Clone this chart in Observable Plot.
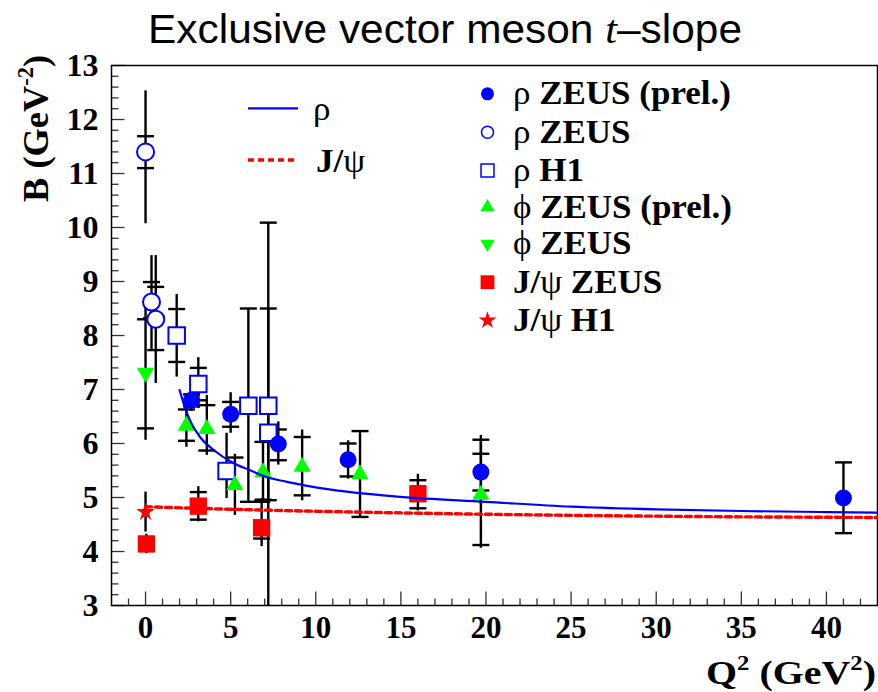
<!DOCTYPE html>
<html><head><meta charset="utf-8">
<script src="https://cdn.jsdelivr.net/npm/d3@7"></script>
<script src="https://cdn.jsdelivr.net/npm/@observablehq/plot@0.6"></script>
<style>body{margin:0;background:#fff;overflow:hidden}</style>
</head><body>
<div id="chart"></div>
<script>
// ---------------- data ----------------
// rho ZEUS (prel.)
const rhoZeusPrelQ2 = [2.7, 5.0, 7.8, 11.9, 19.7, 41.0];
const rhoZeusPrelB = [6.80, 6.54, 5.99, 5.70, 5.47, 4.99];
const rhoZeusPrelStat = [[0.11,0.11],[0.23,0.23],[0.30,0.27],[0.31,0.30],[0.34,0.34],[0.65,0.66]];
const rhoZeusPrelTot = [[0.20,0.20],[0.35,0.40],[0.39,0.41],[0.36,0.35],[0.60,0.60],[0.65,0.66]];
// rho ZEUS
const rhoZeusQ2 = [0.0, 0.35, 0.6];
const rhoZeusB = [11.40, 8.62, 8.30];
const rhoZeusStat = [[0.30,0.29],[0.30,0.37],[0.57,0.60]];
const rhoZeusTot = [[1.33,1.13],[0.89,0.86],[1.19,1.18]];
// rho H1
const rhoH1Q2 = [1.83, 3.1, 4.76, 6.04, 7.21, 7.21];
const rhoH1B = [8.00, 7.10, 5.49, 6.70, 6.70, 6.20];
const rhoH1Stat = [[0.49,0.49],[0.30,0.30],[0,0],[1.78,1.80],[1.75,1.80],[3.90,3.89]];
const rhoH1Tot = [[0.77,0.76],[0.45,0.49],[0.51,0.70],[1.78,1.80],[1.75,1.80],[3.90,3.89]];
// phi ZEUS (prel.)
const phiZeusPrelQ2 = [2.4, 3.6, 5.25, 6.9, 9.2, 12.6, 19.7];
const phiZeusPrelB = [6.33, 6.27, 5.23, 5.47, 5.57, 5.43, 5.05];
const phiZeusPrelStat = [[0.28,0.30],[0.40,0.44],[0.45,0.51],[0.51,0.56],[0.53,0.55],[0.79,0.80],[0.93,1.02]];
const phiZeusPrelTot = [[0.40,0.35],[0.49,0.62],[0.56,0.57],[0.55,0.62],[0.63,0.68],[0.79,0.80],[0.99,1.10]];
// phi ZEUS
const phiZeusQ2 = [0.0];
const phiZeusB = [7.31];
const phiZeusStat = [[1.03,0.99]];
const phiZeusTot = [[1.25,1.25]];
// J/psi ZEUS
const jpsiZeusQ2 = [0.05, 3.1, 6.82, 16.0];
const jpsiZeusB = [4.14, 4.84, 4.44, 5.07];
const jpsiZeusStat = [[0,0],[0.25,0.26],[0.20,0.48],[0.27,0.25]];
const jpsiZeusTot = [[0.18,0.18],[0.29,0.36],[0.35,0.54],[0.32,0.36]];
// J/psi H1
const jpsiH1Q2 = [0.0];
const jpsiH1B = [4.73];
const jpsiH1Stat = [[0,0]];
const jpsiH1Tot = [[0.37,0.37]];
// fit curves
const rhoFitQ2 = [2.0, 2.3, 2.7, 3.2, 4.0, 5.15, 6.1, 7.1, 8.3, 10.8, 15, 20, 25, 30, 35, 40, 43];
const rhoFitB  = [6.99, 6.68, 6.37, 6.12, 5.88, 5.64, 5.51, 5.38, 5.29, 5.15, 5.01, 4.92, 4.83, 4.78, 4.75, 4.73, 4.72];
const jpsiFitQ2 = [0, 3, 10.8, 20, 31.5, 43];
const jpsiFitB  = [4.83, 4.80, 4.74, 4.69, 4.65, 4.63];
// axes
const xTickValues = [0, 5, 10, 15, 20, 25, 30, 35, 40];
const xTickLabels = ["0","5","10","15","20","25","30","35","40"];
const yTickValues = [3,4,5,6,7,8,9,10,11,12,13];
const yTickLabels = ["3","4","5","6","7","8","9","10","11","12","13"];
const legendLabels = ["ρ ZEUS (prel.)","ρ ZEUS","ρ H1","ϕ ZEUS (prel.)","ϕ ZEUS","J/ψ ZEUS","J/ψ H1"];

// ---------------- build ----------------
function rowsOf(name, q2, b, stat, tot) {
  return q2.map((q, i) => ({series: name, q2: q, B: b[i], sLo: stat[i][0], sHi: stat[i][1], tLo: tot[i][0], tHi: tot[i][1]}));
}
const sRhoZP = rowsOf("rhoZP", rhoZeusPrelQ2, rhoZeusPrelB, rhoZeusPrelStat, rhoZeusPrelTot);
const sRhoZ  = rowsOf("rhoZ", rhoZeusQ2, rhoZeusB, rhoZeusStat, rhoZeusTot);
const sRhoH  = rowsOf("rhoH", rhoH1Q2, rhoH1B, rhoH1Stat, rhoH1Tot);
const sPhiZP = rowsOf("phiZP", phiZeusPrelQ2, phiZeusPrelB, phiZeusPrelStat, phiZeusPrelTot);
const sPhiZ  = rowsOf("phiZ", phiZeusQ2, phiZeusB, phiZeusStat, phiZeusTot);
const sJZ    = rowsOf("jZ", jpsiZeusQ2, jpsiZeusB, jpsiZeusStat, jpsiZeusTot);
const sJH    = rowsOf("jH", jpsiH1Q2, jpsiH1B, jpsiH1Stat, jpsiH1Tot);
const allRows = [...sRhoH, ...sRhoZ, ...sRhoZP, ...sPhiZ, ...sPhiZP, ...sJZ, ...sJH];
const caps = allRows.flatMap(d => {
  const out = [];
  if (d.sHi > 0) out.push({q2: d.q2, y: d.B + d.sHi});
  if (d.sLo > 0) out.push({q2: d.q2, y: d.B - d.sLo});
  return out;
});
const rhoFit = rhoFitQ2.map((q, i) => ({q2: q, B: rhoFitB[i]}));
const jpsiFit = jpsiFitQ2.map((q, i) => ({q2: q, B: jpsiFitB[i]}));

const yMinor = d3.range(30, 131, 2).map(v => v / 10).filter(v => Math.abs(v - Math.round(v)) > 1e-6);
const xMinor = d3.range(-1, 43).filter(v => v % 5 !== 0);

const capSym = {draw(ctx, size) {const w = Math.sqrt(size / Math.PI); ctx.moveTo(-w, 0); ctx.lineTo(w, 0);}};
const tickRight = {draw(ctx, size) {const l = Math.sqrt(size / Math.PI); ctx.moveTo(0, 0); ctx.lineTo(l, 0);}};
const tickUp = {draw(ctx, size) {const l = Math.sqrt(size / Math.PI); ctx.moveTo(0, 0); ctx.lineTo(0, -l);}};
const triDown = {draw(ctx, size) {const y = Math.sqrt(size / (3 * Math.sqrt(3))); ctx.moveTo(0, 2 * y); ctx.lineTo(-Math.sqrt(3) * y, -y); ctx.lineTo(Math.sqrt(3) * y, -y); ctx.closePath();}};

const BLUE = "#0000ff", GREEN = "#00ff00", RED = "#ff0000";
const SERIF = "Liberation Serif, Times New Roman, serif";
const TICKC = "#333";

const legRowY = [93.3, 131.7, 170, 206.7, 243.3, 281.7, 320];
const legX = 487;
const legMarkers = [
  {symbol: "circle", r: 6.5, fill: BLUE},
  {symbol: "circle", r: 6, fill: "white", stroke: BLUE, strokeWidth: 1.5},
  {symbol: "square", r: 7.3, fill: "white", stroke: BLUE, strokeWidth: 1.5},
  {symbol: "triangle", r: 5.3, fill: GREEN},
  {symbol: triDown, r: 5.3, fill: GREEN},
  {symbol: "square", r: 7.8, fill: RED},
  {symbol: "star", r: 5.6, fill: RED}
];

const plot = Plot.plot({
  width: 878, height: 692,
  marginLeft: 111, marginRight: 1, marginTop: 65, marginBottom: 87,
  x: {domain: [-2, 43], axis: null},
  y: {domain: [3, 13], axis: null},
  style: {background: "white", overflow: "visible", display: "block"},
  marks: [
    Plot.dot(yTickValues, {y: d => d, frameAnchor: "left", symbol: tickRight, r: 13, stroke: TICKC, strokeWidth: 1.3, fill: "none"}),
    Plot.dot(yMinor, {y: d => d, frameAnchor: "left", symbol: tickRight, r: 7, stroke: TICKC, strokeWidth: 1.3, fill: "none"}),
    Plot.dot(xTickValues, {x: d => d, frameAnchor: "bottom", symbol: tickUp, r: 14, stroke: TICKC, strokeWidth: 1.3, fill: "none"}),
    Plot.dot(xMinor, {x: d => d, frameAnchor: "bottom", symbol: tickUp, r: 7, stroke: TICKC, strokeWidth: 1.3, fill: "none"}),
    Plot.frame({stroke: "black", strokeWidth: 1.5}),
    Plot.text(yTickValues, {y: d => d, frameAnchor: "left", dx: -13, textAnchor: "end", text: (d, i) => yTickLabels[i], fontSize: 32, fontWeight: "bold", fontFamily: SERIF, fill: "black"}),
    Plot.text(xTickValues, {x: d => d, frameAnchor: "bottom", dy: 32, textAnchor: "middle", text: (d, i) => xTickLabels[i], fontSize: 31, fontWeight: "bold", fontFamily: SERIF, fill: "black"}),
    Plot.ruleX(allRows, {x: "q2", y1: d => d.B - d.tLo, y2: d => d.B + d.tHi, stroke: "black", strokeWidth: 2.4, clip: true}),
    Plot.dot(caps, {x: "q2", y: "y", symbol: capSym, r: 8.5, stroke: "black", strokeWidth: 2.4, fill: "none", clip: true}),
    Plot.dot(sRhoH, {x: "q2", y: "B", symbol: "square", r: 9.3, fill: "white", stroke: BLUE, strokeWidth: 2}),
    Plot.dot(sRhoZ, {x: "q2", y: "B", symbol: "circle", r: 8.5, fill: "white", stroke: BLUE, strokeWidth: 2}),
    Plot.dot(sRhoZP, {x: "q2", y: "B", symbol: "circle", r: 8.5, fill: BLUE}),
    Plot.dot(sPhiZ, {x: "q2", y: "B", symbol: triDown, r: 6.4, fill: GREEN}),
    Plot.dot(sPhiZP, {x: "q2", y: "B", symbol: "triangle", r: 6.4, fill: GREEN}),
    Plot.dot(sJZ, {x: "q2", y: "B", symbol: "square", r: 9.8, fill: RED}),
    Plot.dot(sJH, {x: "q2", y: "B", symbol: "star", r: 5.8, fill: RED}),
    Plot.line(rhoFit, {x: "q2", y: "B", stroke: BLUE, strokeWidth: 2.2, curve: "monotone-x"}),
    Plot.line(jpsiFit, {x: "q2", y: "B", stroke: RED, strokeWidth: 3.4, strokeDasharray: "6,4", curve: "monotone-x"}),
    ...legMarkers.map((m, i) => Plot.dot([0], {frameAnchor: "top-left", dx: legX - 111, dy: legRowY[i] - 65, ...m}))
  ]
});
document.getElementById("chart").append(plot);
const svg = d3.select(plot);

function addText(x, y, parts, o) {
  const el = svg.append("text")
    .attr("text-anchor", o.anchor || "start")
    .attr("font-family", o.family || SERIF)
    .attr("font-size", o.size)
    .attr("font-weight", o.weight || "normal")
    .attr("fill", "black");
  let shifted = 0;
  for (const p of parts) {
    const ts = el.append("tspan").text(p.t);
    if (p.weight) ts.attr("font-weight", p.weight);
    if (p.style) ts.attr("font-style", p.style);
    if (p.family) ts.attr("font-family", p.family);
    const want = p.sup ? -o.size * 0.42 : 0;
    if (want !== shifted) { ts.attr("dy", want - shifted); shifted = want; }
    if (p.sup) ts.attr("font-size", o.size * 0.62);
  }
  let s = o.scale || 1;
  if (o.target) { const w = el.node().getBBox().width; if (w > 0) s = o.target / w; }
  el.attr("transform", `translate(${x},${y})` + (o.rotate ? ` rotate(${o.rotate})` : "") + ` scale(${s},1)`);
  return s;
}
function greekParts(str) {
  const parts = [];
  for (const ch of str) {
    const g = /[\u0370-\u03FF]/.test(ch);
    const w = g ? "normal" : "bold";
    if (parts.length && parts[parts.length - 1].weight === w) parts[parts.length - 1].t += ch;
    else parts.push({t: ch, weight: w});
  }
  return parts;
}

addText(445, 43, [{t: "Exclusive vector meson "}, {t: "t", style: "italic", family: SERIF}, {t: "–slope"}],
  {size: 40, family: "Liberation Sans, Arial, sans-serif", anchor: "middle", target: 594});
addText(48, 55, [{t: "B (GeV"}, {t: "-2", sup: true}, {t: ")"}], {size: 36, weight: "bold", anchor: "end", rotate: -90, target: 147});
addText(876, 684, [{t: "Q"}, {t: "2", sup: true}, {t: " (GeV"}, {t: "2", sup: true}, {t: ")"}], {size: 33, weight: "bold", anchor: "end", target: 170});

const legScale = addText(513, legRowY[0] + 11, greekParts(legendLabels[0]), {size: 34, target: 218});
legendLabels.slice(1).forEach((lab, i) => addText(513, legRowY[i + 1] + 11, greekParts(lab), {size: 34, scale: legScale}));

svg.append("line").attr("x1", 248).attr("x2", 298).attr("y1", 108.3).attr("y2", 108.3).attr("stroke", BLUE).attr("stroke-width", 2.2);
svg.append("line").attr("x1", 248).attr("x2", 296).attr("y1", 160).attr("y2", 160).attr("stroke", RED).attr("stroke-width", 3.4).attr("stroke-dasharray", "6,4");
addText(313, 120, [{t: "ρ", weight: "normal"}], {size: 34, scale: legScale});
addText(316, 172, greekParts("J/ψ"), {size: 34, scale: legScale});
</script></body></html>
